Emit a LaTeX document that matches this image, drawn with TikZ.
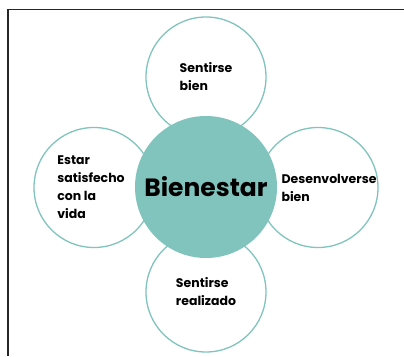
\documentclass[tikz,border=0pt]{standalone}
\usepackage{fontspec}
\setmainfont{Poppins}
\usepackage{xcolor}
\usepackage{tikz}
\definecolor{petalteal}{HTML}{80C4BD}

\begin{document}
\begin{tikzpicture}[x=1pt,y=-1pt]
    \tikzstyle{petal}=[circle,draw=petalteal,line width=1.3pt,fill=white,minimum size=120pt,inner sep=0pt]
    \tikzstyle{petal text}=[align=left,font=\bfseries\fontsize{12.5}{18}\selectfont]
    \tikzstyle{core}=[circle,fill=petalteal,minimum size=142pt,inner sep=0pt,font=\bfseries\fontsize{25}{30}\selectfont]

    \useasboundingbox (0,0) rectangle (404,356);

    % Draw the frame
    \draw[line width=1.4pt,black!85] (8,356) -- (8,9.5) -- (404,9.5);

    % Draw the petals round the centre
    \node[petal,petal text] (top) at (206,77) {Sentirse\\bien};
    \node[petal,petal text] (bottom) at (206,292) {Sentirse\\realizado};
    \node[petal,petal text] (left) at (94,187.5) {};
    \node[petal] (right) at (318,187.5) {};
    \node[petal text] (lefttext) at (91,187.5) {Estar\\satisfecho\\con la\\vida};
    \node[petal text] (righttext) at (329,187.5) {Desenvolverse\\bien};

    % Draw the centre
    \node[core] (core) at (206,187) {Bienestar};
\end{tikzpicture}
\end{document}
